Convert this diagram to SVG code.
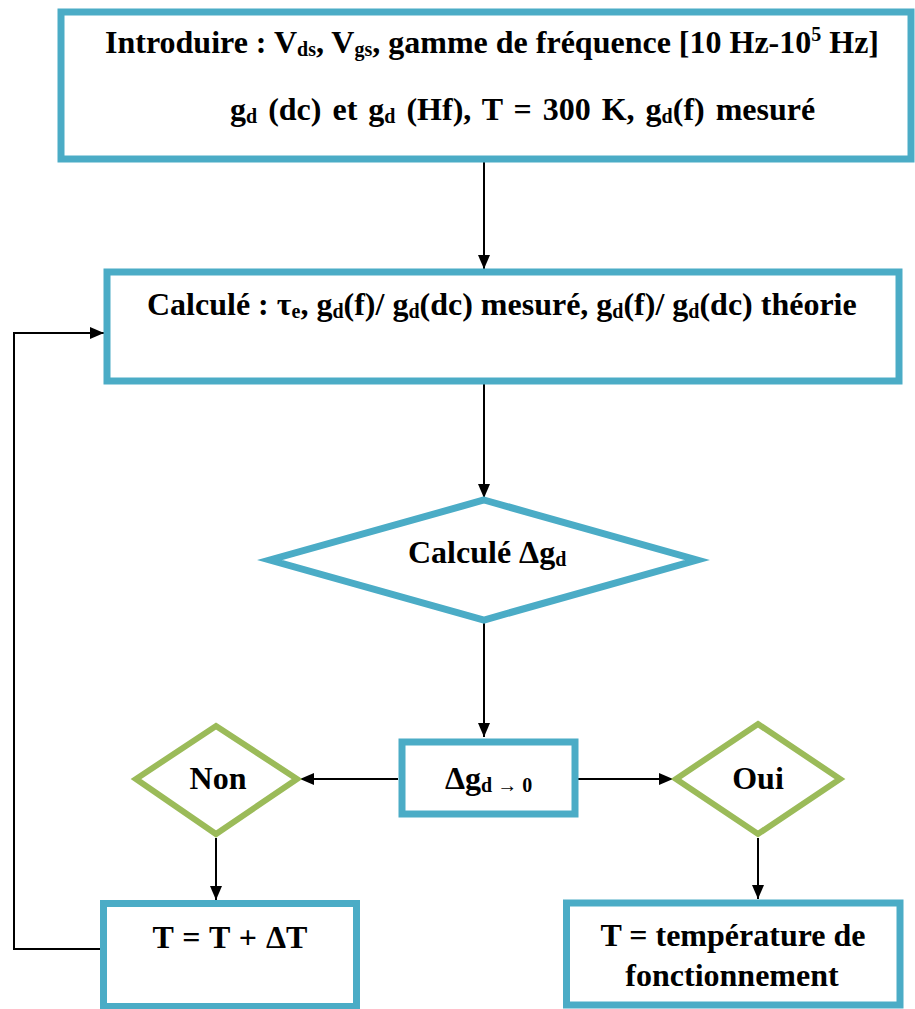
<svg xmlns="http://www.w3.org/2000/svg" width="915" height="1009" viewBox="0 0 915 1009">
<style>
.b{fill:#fff;stroke:#4BACC6;stroke-width:7}
.g{fill:#fff;stroke:#9BBB59;stroke-width:6}
.c{fill:none;stroke:#000;stroke-width:2}
</style>
<defs>
<marker id="ah2" viewBox="0 0 14 12" refX="14" refY="6" markerWidth="14" markerHeight="12" markerUnits="userSpaceOnUse" orient="auto">
<path d="M0,0 L14,6 L0,12 z" fill="#000"/>
</marker>
</defs>
<g id="connectors">
<line class="c" x1="484" y1="162" x2="484" y2="269" marker-end="url(#ah2)"/>
<line class="c" x1="484" y1="383" x2="484" y2="498" marker-end="url(#ah2)"/>
<line class="c" x1="484" y1="622" x2="484" y2="737" marker-end="url(#ah2)"/>
<line class="c" x1="398" y1="779" x2="300" y2="779" marker-end="url(#ah2)"/>
<line class="c" x1="577" y1="779" x2="673" y2="779" marker-end="url(#ah2)"/>
<line class="c" x1="216" y1="838" x2="216" y2="900" marker-end="url(#ah2)"/>
<line class="c" x1="758" y1="838" x2="758" y2="899" marker-end="url(#ah2)"/>
<polyline class="c" points="100,949 14,949 14,333 104,333" marker-end="url(#ah2)"/>
</g>
<g id="n1">
<rect class="b" x="61" y="12" width="850" height="147"/>
<text x="105" y="53" font-family="Liberation Serif" font-weight="bold" font-size="32">Introduire : V<tspan font-size="20" dy="3">ds</tspan><tspan dy="-3">, V</tspan><tspan font-size="20" dy="3">gs</tspan><tspan dy="-3">, gamme de fréquence [10 Hz-10</tspan><tspan font-size="20" dy="-12">5</tspan><tspan dy="12"> Hz]</tspan></text>
<text x="230" y="120" font-family="Liberation Serif" font-weight="bold" font-size="32" word-spacing="3">g<tspan font-size="20" dy="3">d</tspan><tspan dy="-3"> (dc) et g</tspan><tspan font-size="20" dy="3">d</tspan><tspan dy="-3"> (Hf), T = 300 K, g</tspan><tspan font-size="20" dy="3">d</tspan><tspan dy="-3">(f) mesuré</tspan></text>
</g>
<g id="n2">
<rect class="b" x="107" y="272" width="792" height="109"/>
<text x="147" y="315" font-family="Liberation Serif" font-weight="bold" font-size="32">Calculé : τ<tspan font-size="20" dy="3">e</tspan><tspan dy="-3">, g</tspan><tspan font-size="20" dy="3">d</tspan><tspan dy="-3">(f)/ g</tspan><tspan font-size="20" dy="3">d</tspan><tspan dy="-3">(dc) mesuré, g</tspan><tspan font-size="20" dy="3">d</tspan><tspan dy="-3">(f)/ g</tspan><tspan font-size="20" dy="3">d</tspan><tspan dy="-3">(dc) théorie</tspan></text>
</g>
<g id="n3">
<polygon class="b" points="484,500 697,560 484,620 270,560"/>
<text x="408" y="563" font-family="Liberation Serif" font-weight="bold" font-size="32">Calculé Δg<tspan font-size="20" dy="3">d</tspan></text>
</g>
<g id="n4">
<rect class="b" x="402" y="742" width="173" height="72"/>
<text x="445" y="789" font-family="Liberation Serif" font-weight="bold" font-size="32">Δg<tspan font-size="20" dy="3">d → 0</tspan></text>
</g>
<g id="n5">
<polygon class="g" points="216,726 297,779 216,834 136,779"/>
<text x="218" y="789" text-anchor="middle" font-family="Liberation Serif" font-weight="bold" font-size="32">Non</text>
</g>
<g id="n6">
<polygon class="g" points="758,724 840,779 758,834 676,779"/>
<text x="758" y="789" text-anchor="middle" font-family="Liberation Serif" font-weight="bold" font-size="32">Oui</text>
</g>
<g id="n7">
<rect class="b" x="103.5" y="903.5" width="253" height="103"/>
<text x="230" y="948" text-anchor="middle" font-family="Liberation Serif" font-weight="bold" font-size="32" word-spacing="1">T = T + ΔT</text>
</g>
<g id="n8">
<rect class="b" x="566.5" y="903" width="333.5" height="102"/>
<text x="733" y="946" text-anchor="middle" font-family="Liberation Serif" font-weight="bold" font-size="32">T = température de</text>
<text x="732" y="986" text-anchor="middle" font-family="Liberation Serif" font-weight="bold" font-size="32">fonctionnement</text>
</g>
</svg>
